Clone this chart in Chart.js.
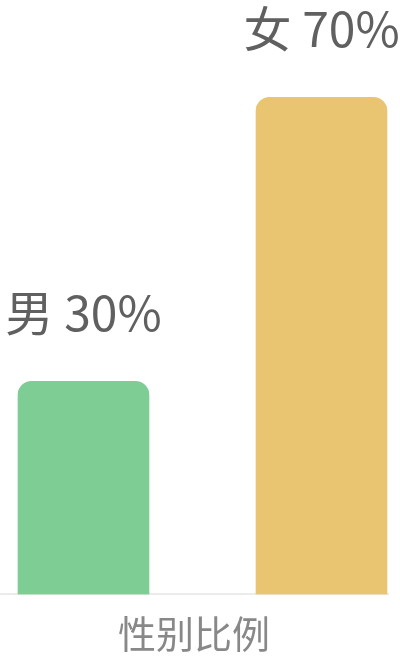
<!DOCTYPE html>
<html>
<head>
<meta charset="utf-8">
<script src="https://cdn.jsdelivr.net/npm/chart.js@4.4.0/dist/chart.umd.min.js"></script>
<style>
  html, body { margin: 0; padding: 0; background: #fff; }
  #wrap { width: 400px; height: 658px; }
</style>
</head>
<body>
<div id="wrap"><canvas id="genderChart"></canvas></div>
<script>
const categories = ['男', '女'];
const values = [30, 70];
const barColors = ['#7ecd95', '#eac571'];
const axisTitle = '性别比例';

const FONT = '"Noto Sans CJK SC", "Noto Sans", sans-serif';

// labels like "男 30%" above each bar
const barLabels = {
    id: 'barLabels',
    afterDatasetsDraw(chart) {
        const ctx = chart.ctx;
        const meta = chart.getDatasetMeta(0);
        ctx.save();
        ctx.font = '48px ' + FONT;
        ctx.fillStyle = '#606060';
        ctx.textAlign = 'center';
        ctx.textBaseline = 'alphabetic';
        meta.data.forEach((bar, i) => {
            ctx.fillText(categories[i] + ' ' + values[i] + '%', bar.x, bar.y - 50);
        });
        ctx.restore();
    }
};

const ctx = document.getElementById('genderChart').getContext('2d');

window.genderChart = new Chart(ctx, {
    type: 'bar',
    data: {
        datasets: [{
            data: values.map((v, i) => ({ x: i, y: v })),
            backgroundColor: barColors,
            borderWidth: 0,
            borderRadius: 14,
            barThickness: 131
        }]
    },
    options: {
        responsive: true,
        maintainAspectRatio: false,
        animation: false,
        layout: { padding: { top: 0, left: 0, right: 12, bottom: 0 } },
        plugins: {
            legend: { display: false },
            tooltip: { enabled: false }
        },
        scales: {
            x: {
                type: 'linear',
                offset: false,
                min: -0.3508,
                max: 1.2794,
                ticks: { display: false },
                grid: { display: false, drawTicks: false },
                border: { display: true, color: '#ececec', width: 2 },
                title: {
                    display: true,
                    text: axisTitle,
                    color: '#888888',
                    font: { family: FONT, size: 38 },
                    padding: { top: 16, bottom: 2 }
                }
            },
            y: {
                display: false,
                min: 0,
                max: 83.7
            }
        }
    },
    plugins: [barLabels]
});
</script>
</body>
</html>
